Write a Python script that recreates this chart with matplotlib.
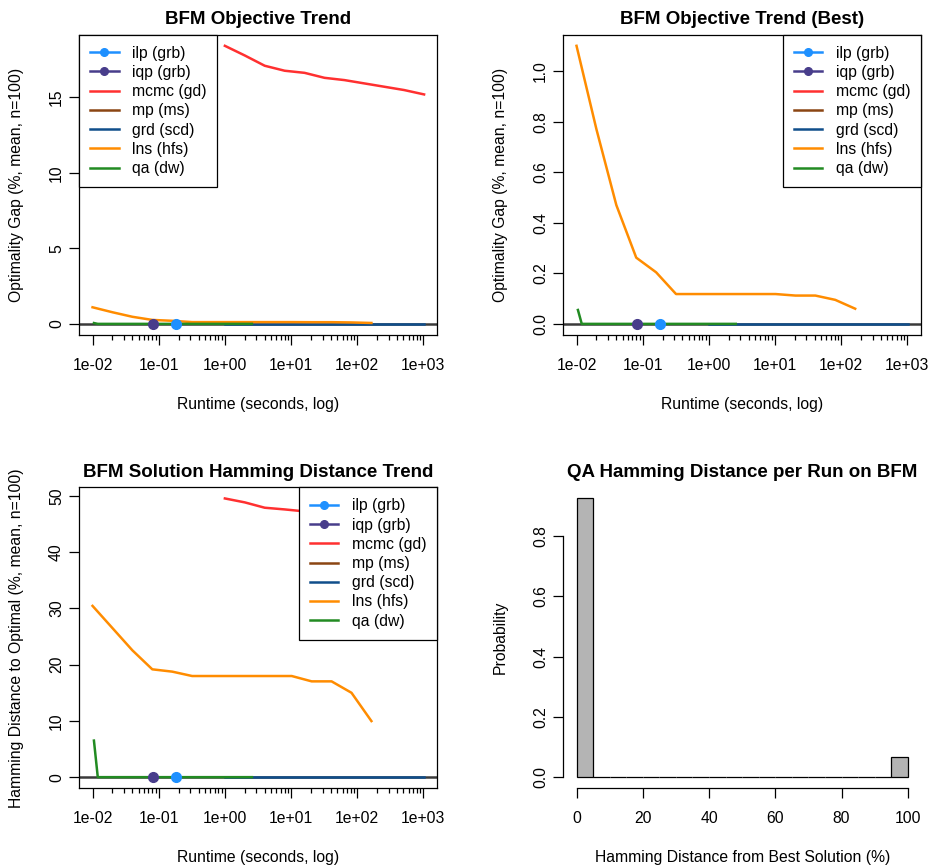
import numpy as np
import matplotlib
matplotlib.use("Agg")
import matplotlib.pyplot as plt
from matplotlib.lines import Line2D
from matplotlib.ticker import FixedLocator, FixedFormatter, NullFormatter

# -----------------------------------
# Data
# -----------------------------------

ilp_t = [0.18]
ilp_val = [0.0]
iqp_t = [0.082]
iqp_val = [0.0]

mcmc_t = [1, 2, 4, 8, 16, 32, 64, 128, 256, 512, 1024]
mcmc_gap = [18.42, 17.78, 17.10, 16.77, 16.63, 16.30, 16.15, 15.93, 15.71, 15.49, 15.20]
mcmc_ham = [49.55, 48.85, 47.9, 47.6, 47.25, 47.0, 46.8, 46.6, 46.4, 46.2, 46.0]

grd_t = [1, 2, 4, 8, 16, 32, 64, 128, 256, 512, 1024]
grd_val = [0, 0, 0, 0, 0, 0, 0, 0, 0, 0, 0]

lns_t = [0.01, 0.02, 0.04, 0.08, 0.16, 0.32, 0.64, 1.28, 2.56, 5.12,
         10.24, 20.48, 40.96, 81.92, 163.84]
lns_gap = [1.10, 0.77, 0.47, 0.262, 0.204, 0.118, 0.118, 0.118, 0.118, 0.118,
           0.118, 0.112, 0.112, 0.095, 0.06]
lns_ham = [30.45, 26.5, 22.55, 19.17, 18.76, 17.98, 17.98, 17.98, 17.98, 17.98,
           17.98, 17.03, 17.03, 15.0, 9.97]

qa_t = [0.0105, 0.012, 0.04, 0.16, 0.64, 2.56]
qa_gap = [0.055, 0, 0, 0, 0, 0]
qa_ham = [6.5, 0, 0, 0, 0, 0]

hist_left = [0, 5, 10, 15, 20, 25, 30, 35, 40, 45,
             50, 55, 60, 65, 70, 75, 80, 85, 90, 95]
hist_prob = [0.925, 0, 0, 0, 0, 0, 0, 0, 0.0005, 0.001,
             0.001, 0.0005, 0, 0, 0, 0, 0, 0, 0, 0.0655]

labels = ["ilp (grb)", "iqp (grb)", "mcmc (gd)", "mp (ms)",
          "grd (scd)", "lns (hfs)", "qa (dw)"]
colors = ["#1E90FF", "#483D8B", "#FF3030", "#8B4513",
          "#104E8B", "#FF8C00", "#228B22"]

decade_ticks = [0.01, 0.1, 1, 10, 100, 1000]
decade_labels = ["1e-02", "1e-01", "1e+00", "1e+01", "1e+02", "1e+03"]

# -----------------------------------
# Style
# -----------------------------------

FS = 11.3
plt.rcParams["font.family"] = ["Liberation Sans", "DejaVu Sans"]
plt.rcParams["font.size"] = FS
LW = 1.8

W, H = 936, 866
fig = plt.figure(figsize=(W / 100, H / 100), dpi=100)


def add_ax(left, top, right, bottom):
    return fig.add_axes([left / W, 1 - bottom / H, (right - left) / W, (bottom - top) / H])


def r_lim(lo, hi):
    pad = 0.04 * (hi - lo)
    return lo - pad, hi + pad


def style_axes(ax):
    for s in ax.spines.values():
        s.set_linewidth(0.9)
        s.set_color("black")
    ax.tick_params(axis="both", which="major", length=7, width=0.9,
                   direction="out", labelsize=FS)
    ax.tick_params(axis="x", which="major", pad=9.5)
    ax.tick_params(axis="y", which="major", pad=4)
    ax.tick_params(axis="x", which="minor", length=3.6, width=0.9, direction="out")
    plt.setp(ax.get_yticklabels(), rotation=90, va="center")


def log_xaxis(ax):
    ax.set_xscale("log")
    ax.set_xlim(10 ** -2.2, 10 ** 3.21)
    ax.xaxis.set_major_locator(FixedLocator(decade_ticks))
    ax.xaxis.set_major_formatter(FixedFormatter(decade_labels))
    minors = [m * 10.0 ** e for e in range(-2, 3) for m in range(2, 10)]
    ax.xaxis.set_minor_locator(FixedLocator(minors))
    ax.xaxis.set_minor_formatter(NullFormatter())


def trend_panel(ax, gap_lns, gap_qa, mcmc=None):
    ax.axhline(0, color="#3a3a3a", lw=LW, zorder=1)
    if mcmc is not None:
        ax.plot(mcmc_t, mcmc, color=colors[2], lw=LW, zorder=2)
    ax.plot(grd_t, grd_val, color=colors[4], lw=LW, zorder=2)
    ax.plot(lns_t, gap_lns, color=colors[5], lw=LW, zorder=2)
    ax.plot(qa_t, gap_qa, color=colors[6], lw=LW, zorder=2)
    ax.plot(iqp_t, iqp_val, "o", color=colors[1], ms=7, zorder=3)
    ax.plot(ilp_t, ilp_val, "o", color=colors[0], ms=7, zorder=3)
    log_xaxis(ax)


def add_legend(ax, loc):
    handles = []
    for i, (lab, col) in enumerate(zip(labels, colors)):
        marker = "o" if i < 2 else None
        handles.append(Line2D([], [], color=col, lw=LW, marker=marker, ms=5.5))
    leg = ax.legend(handles, labels, loc=loc, borderaxespad=0, fancybox=False,
                    framealpha=1, edgecolor="black", fontsize=FS,
                    handlelength=1.8, handletextpad=0.85, labelspacing=0.27,
                    borderpad=0.7)
    leg.get_frame().set_linewidth(0.9)
    leg.set_zorder(5)


# -----------------------------------
# Panel 1: objective trend (mean)
# -----------------------------------

ax1 = add_ax(79.3, 34.7, 437.3, 335)
trend_panel(ax1, lns_gap, qa_gap, mcmc=mcmc_gap)
ax1.set_ylim(*r_lim(0, max(mcmc_gap)))
ax1.set_yticks([0, 5, 10, 15])
style_axes(ax1)
add_legend(ax1, "upper left")
ax1.set_title("BFM Objective Trend", fontweight="bold", fontsize=13.5, pad=7.5)
ax1.set_xlabel("Runtime (seconds, log)", labelpad=17)
ax1.set_ylabel("Optimality Gap (%, mean, n=100)", labelpad=18)

# -----------------------------------
# Panel 2: objective trend (best)
# -----------------------------------

ax2 = add_ax(563.3, 34.7, 921, 335)
trend_panel(ax2, lns_gap, qa_gap)
ax2.set_ylim(*r_lim(0, max(lns_gap)))
ax2.set_yticks([0.0, 0.2, 0.4, 0.6, 0.8, 1.0])
ax2.set_yticklabels(["0.0", "0.2", "0.4", "0.6", "0.8", "1.0"])
style_axes(ax2)
add_legend(ax2, "upper right")
ax2.set_title("BFM Objective Trend (Best)", fontweight="bold", fontsize=13.5, pad=7.5)
ax2.set_xlabel("Runtime (seconds, log)", labelpad=17)
ax2.set_ylabel("Optimality Gap (%, mean, n=100)", labelpad=18)

# -----------------------------------
# Panel 3: hamming distance trend
# -----------------------------------

ax3 = add_ax(79.3, 487.3, 437.3, 788.3)
trend_panel(ax3, lns_ham, qa_ham, mcmc=mcmc_ham)
ax3.set_ylim(*r_lim(0, max(mcmc_ham)))
ax3.set_yticks([0, 10, 20, 30, 40, 50])
style_axes(ax3)
add_legend(ax3, "upper right")
ax3.set_title("BFM Solution Hamming Distance Trend", fontweight="bold", fontsize=13.5, pad=7.5)
ax3.set_xlabel("Runtime (seconds, log)", labelpad=17)
ax3.set_ylabel("Hamming Distance to Optimal (%, mean, n=100)", labelpad=18)

# -----------------------------------
# Panel 4: QA histogram
# -----------------------------------

ax4 = add_ax(563.3, 487.3, 921, 788.3)
ax4.bar(hist_left, hist_prob, width=5, align="edge", color="#b4b4b4",
        edgecolor="black", linewidth=0.9)
ax4.set_xlim(*r_lim(0, 100))
ax4.set_ylim(*r_lim(0, max(hist_prob)))
ax4.set_xticks([0, 20, 40, 60, 80, 100])
ax4.set_yticks([0.0, 0.2, 0.4, 0.6, 0.8])
ax4.set_yticklabels(["0.0", "0.2", "0.4", "0.6", "0.8"])
ax4.spines["top"].set_visible(False)
ax4.spines["right"].set_visible(False)
ax4.spines["left"].set_bounds(0, 0.8)
ax4.spines["bottom"].set_bounds(0, 100)
style_axes(ax4)
ax4.set_title("QA Hamming Distance per Run on BFM", fontweight="bold", fontsize=13.5, pad=7.5)
ax4.set_xlabel("Hamming Distance from Best Solution (%)", labelpad=17)
ax4.set_ylabel("Probability", labelpad=18)

fig.savefig("out.png", dpi=100)
